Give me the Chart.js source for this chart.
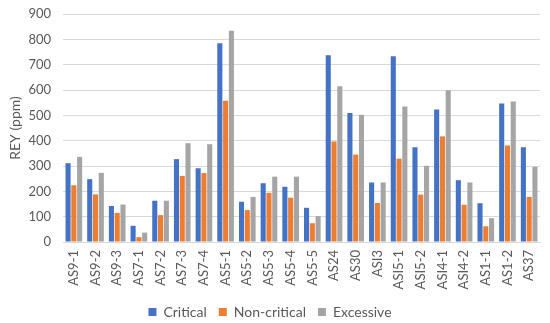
<!DOCTYPE html>
<html>
<head>
<meta charset="utf-8">
<script src="https://cdn.jsdelivr.net/npm/chart.js@4/dist/chart.umd.min.js"></script>
<style>
html,body{margin:0;padding:0;background:#fff;}
#wrap{width:550px;height:323px;position:relative;}
</style>
</head>
<body>
<div id="wrap"><canvas id="c" width="550" height="323"></canvas></div>
<script>
const categories = ["AS9-1","AS9-2","AS9-3","AS7-1","AS7-2","AS7-3","AS7-4","AS5-1","AS5-2","AS5-3","AS5-4","AS5-5","AS24","AS30","ASI3","ASI5-1","ASI5-2","ASI4-1","ASI4-2","AS1-1","AS1-2","AS37"];
const critical    = [311,248,142,64,163,327,291,785,159,232,218,135,737,509,235,733,374,523,244,153,547,374];
const nonCritical = [224,188,115,19,106,261,272,558,126,194,175,74,397,345,154,329,187,417,147,62,381,178];
const excessive   = [336,273,148,37,163,390,386,834,178,258,258,102,615,502,235,535,301,599,235,94,555,297];
const yTicks = [0,100,200,300,400,500,600,700,800,900];

const FONT = "Lato, 'Liberation Sans', sans-serif";
const TXT = '#595959';

new Chart(document.getElementById('c'), {
  type: 'bar',
  data: {
    labels: categories,
    datasets: [
      {label: 'Critical', data: critical, backgroundColor: '#4472C4'},
      {label: 'Non-critical', data: nonCritical, backgroundColor: '#ED7D31'},
      {label: 'Excessive', data: excessive, backgroundColor: '#A5A5A5'}
    ]
  },
  options: {
    responsive: false,
    animation: false,
    devicePixelRatio: 1,
    layout: {autoPadding: false, padding: {left: 0, right: 10, top: 14, bottom: -6}},
    datasets: {bar: {categoryPercentage: 0.8, barPercentage: 0.88}},
    plugins: {
      legend: {
        position: 'bottom',
        labels: {
          boxWidth: 8, boxHeight: 8, padding: 12,
          color: TXT,
          font: {family: FONT, size: 14}
        }
      },
      tooltip: {enabled: false}
    },
    scales: {
      x: {
        grid: {display: false, drawTicks: false},
        border: {display: true, color: '#d9d9d9'},
        ticks: {
          minRotation: 90, maxRotation: 90, padding: 8,
          autoSkip: false,
          color: TXT, font: {family: FONT, size: 13}
        },
        afterFit: s => { s.height = 51; s.paddingLeft = 0; s.paddingRight = 0; }
      },
      y: {
        min: 0, max: 900,
        afterBuildTicks: s => { s.ticks = yTicks.map(v => ({value: v})); },
        grid: {color: '#d9d9d9', lineWidth: 1, drawTicks: false},
        border: {display: false},
        ticks: {padding: 12, color: TXT, font: {family: FONT, size: 13}},
        title: {display: true, text: 'REY (ppm)', color: TXT, font: {family: FONT, size: 14}, padding: {top: 7, bottom: 0}},
        afterFit: s => { s.width = 63; s.paddingTop = 0; s.paddingBottom = 0; }
      }
    }
  }
});
</script>
</body>
</html>
